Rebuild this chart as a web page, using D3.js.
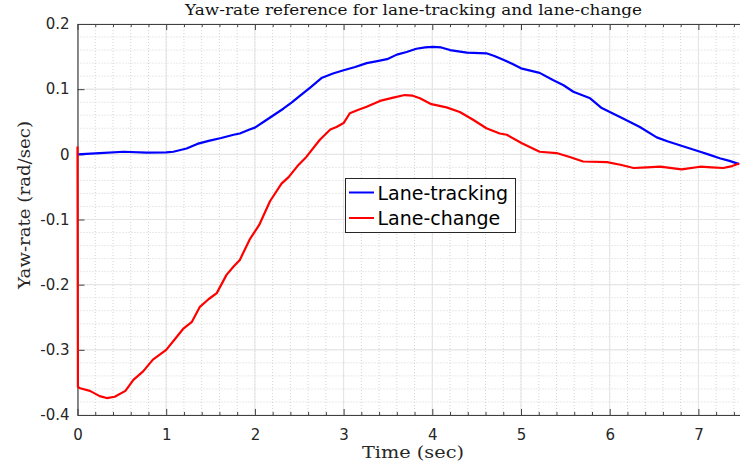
<!DOCTYPE html>
<html><head><meta charset="utf-8">
<script src="https://cdn.jsdelivr.net/npm/d3@7"></script>
<style>body{margin:0;background:#fff}svg{display:block}</style>
</head><body>
<svg id="c" width="740" height="471"></svg>
<script>
const titleText = "Yaw-rate reference for lane-tracking and lane-change";
const xLabel = "Time (sec)";
const yLabel = "Yaw-rate (rad/sec)";
const xTicks = [0,1,2,3,4,5,6,7];
const yTicks = [-0.4,-0.3,-0.2,-0.1,0,0.1,0.2];
const yTickLabels = ["-0.4","-0.3","-0.2","-0.1","0","0.1","0.2"];
const legendNames = ["Lane-tracking","Lane-change"];
const seriesColors = ["#0000ff","#ff0000"];

const trackT = [0,0.25,0.52,0.78,1.0,1.08,1.23,1.35,1.49,1.62,1.76,1.83,1.94,2.0,2.1,2.21,2.32,2.42,2.51,2.62,2.75,2.88,3.0,3.13,3.26,3.38,3.49,3.6,3.71,3.82,3.92,4.01,4.1,4.2,4.39,4.61,4.7,4.8,4.9,5.0,5.21,5.36,5.48,5.59,5.78,5.91,6.03,6.15,6.34,6.53,6.65,6.79,7.02,7.12,7.24,7.35,7.46];
const trackV = [0,0.002,0.004,0.0025,0.003,0.004,0.009,0.016,0.021,0.025,0.030,0.032,0.038,0.041,0.05,0.060,0.070,0.080,0.090,0.102,0.117,0.124,0.129,0.134,0.140,0.143,0.146,0.153,0.157,0.162,0.164,0.165,0.164,0.160,0.156,0.155,0.151,0.145,0.139,0.132,0.125,0.114,0.106,0.096,0.086,0.071,0.063,0.055,0.042,0.026,0.020,0.014,0.004,-0.0005,-0.006,-0.010,-0.015];

const changeT = [0,0.005,0.03,0.14,0.25,0.33,0.42,0.54,0.63,0.74,0.85,1.0,1.12,1.19,1.29,1.38,1.48,1.57,1.68,1.76,1.83,1.94,2.05,2.17,2.3,2.38,2.48,2.58,2.73,2.85,2.92,3.0,3.07,3.16,3.26,3.41,3.56,3.69,3.78,3.86,3.99,4.16,4.31,4.46,4.61,4.76,4.84,5.01,5.21,5.4,5.55,5.7,5.97,6.12,6.27,6.42,6.57,6.81,7.02,7.15,7.28,7.38,7.46];
const changeV = [0.012,-0.357,-0.359,-0.363,-0.371,-0.374,-0.372,-0.363,-0.346,-0.333,-0.315,-0.300,-0.280,-0.268,-0.257,-0.234,-0.222,-0.213,-0.185,-0.172,-0.162,-0.131,-0.108,-0.072,-0.045,-0.035,-0.018,-0.004,0.022,0.038,0.042,0.048,0.063,0.068,0.073,0.082,0.087,0.091,0.090,0.086,0.077,0.072,0.065,0.053,0.040,0.032,0.030,0.017,0.004,0.002,-0.004,-0.011,-0.012,-0.016,-0.021,-0.020,-0.019,-0.023,-0.019,-0.020,-0.021,-0.018,-0.014];

const svg = d3.select("#c");
const L = 77.5, T = 24, B = 415, R = 742.75;
const x = d3.scaleLinear().domain([0,7.5]).range([L,R]);
const y = d3.scaleLinear().domain([-0.4,0.2]).range([B,T]);
const axisCol = "#404040";

const grid = svg.append("g");
d3.range(0,7.5001,0.2).forEach(v=>{
  grid.append("line").attr("x1",x(v)).attr("x2",x(v)).attr("y1",T).attr("y2",B)
    .attr("stroke","#d4d4d4").attr("stroke-width",1).attr("stroke-dasharray","1,2");
});
d3.range(-0.4,0.2001,0.02).forEach(v=>{
  grid.append("line").attr("x1",L).attr("x2",740).attr("y1",y(v)).attr("y2",y(v))
    .attr("stroke","#d4d4d4").attr("stroke-width",1).attr("stroke-dasharray","1,2");
});
xTicks.forEach(v=>{
  grid.append("line").attr("x1",x(v)).attr("x2",x(v)).attr("y1",T).attr("y2",B)
    .attr("stroke","#e3e3e3").attr("stroke-width",1);
});
yTicks.forEach(v=>{
  grid.append("line").attr("x1",L).attr("x2",740).attr("y1",y(v)).attr("y2",y(v))
    .attr("stroke","#e3e3e3").attr("stroke-width",1);
});

const minorX = d3.range(0,7.5001,0.2).filter(v=>Math.abs(v-Math.round(v))>1e-6);
svg.append("g").attr("transform",`translate(0,${B})`)
  .call(d3.axisBottom(x).tickValues(xTicks).tickSizeInner(-6).tickSizeOuter(0).tickPadding(14).tickFormat(d3.format("d")));
svg.append("g").attr("transform",`translate(0,${B})`)
  .call(d3.axisBottom(x).tickValues(minorX).tickSize(-3).tickFormat(""))
  .select(".domain").remove();
svg.append("g").attr("transform",`translate(0,${T})`)
  .call(d3.axisTop(x).tickValues(xTicks).tickSizeInner(-6).tickSizeOuter(0).tickFormat(""));
svg.append("g").attr("transform",`translate(0,${T})`)
  .call(d3.axisTop(x).tickValues(minorX).tickSize(-3).tickFormat(""))
  .select(".domain").remove();
svg.append("g").attr("transform",`translate(${L},0)`)
  .call(d3.axisLeft(y).tickValues(yTicks).tickSizeInner(-7).tickSizeOuter(0).tickPadding(8)
    .tickFormat((d,i)=>yTickLabels[i]));
svg.selectAll(".domain").attr("stroke",axisCol).attr("stroke-width",1.2);
svg.selectAll(".tick line").attr("stroke",axisCol);
svg.selectAll(".tick text").attr("fill","#262626").attr("font-family","DejaVu Sans").attr("font-size",15);

svg.append("clipPath").attr("id","clip").append("rect").attr("x",L-2).attr("y",T-2).attr("width",740-L+4).attr("height",B-T+4);
const line = d3.line().x(d=>x(d[0])).y(d=>y(d[1]));
const trackData = trackT.map((t,i)=>[t,trackV[i]]);
const changeData = changeT.map((t,i)=>[t,changeV[i]]);
const pg = svg.append("g").attr("clip-path","url(#clip)");
pg.append("path").datum(trackData).attr("d",line).attr("fill","none").attr("stroke",seriesColors[0]).attr("stroke-width",2.2).attr("stroke-linejoin","round");
pg.append("path").datum(changeData).attr("d",line).attr("fill","none").attr("stroke",seriesColors[1]).attr("stroke-width",2.2).attr("stroke-linejoin","round");

svg.append("text").attr("x",413.5).attr("y",15).attr("text-anchor","middle")
  .attr("font-family","DejaVu Serif").attr("font-size",15).attr("fill","#111")
  .attr("textLength",457).attr("lengthAdjust","spacingAndGlyphs").text(titleText);
svg.append("text").attr("x",413).attr("y",458).attr("text-anchor","middle")
  .attr("font-family","DejaVu Serif").attr("font-size",17).attr("fill","#262626")
  .attr("textLength",102).attr("lengthAdjust","spacingAndGlyphs").text(xLabel);
svg.append("text").attr("transform","translate(30,205) rotate(-90)").attr("text-anchor","middle")
  .attr("font-family","DejaVu Serif").attr("font-size",17).attr("fill","#262626")
  .attr("textLength",168).attr("lengthAdjust","spacingAndGlyphs").text(yLabel);

const lg = svg.append("g");
lg.append("rect").attr("x",345.5).attr("y",178.5).attr("width",170).attr("height",54)
  .attr("fill","#fff").attr("stroke","#262626").attr("stroke-width",1);
legendNames.forEach((n,i)=>{
  const yy = 192.5 + i*25.5;
  lg.append("line").attr("x1",349).attr("x2",374).attr("y1",yy).attr("y2",yy)
    .attr("stroke",seriesColors[i]).attr("stroke-width",2);
  lg.append("text").attr("x",377.5).attr("y",yy+7).attr("font-family","DejaVu Sans")
    .attr("font-size",19).attr("fill","#000").text(n);
});
</script>
</body></html>
